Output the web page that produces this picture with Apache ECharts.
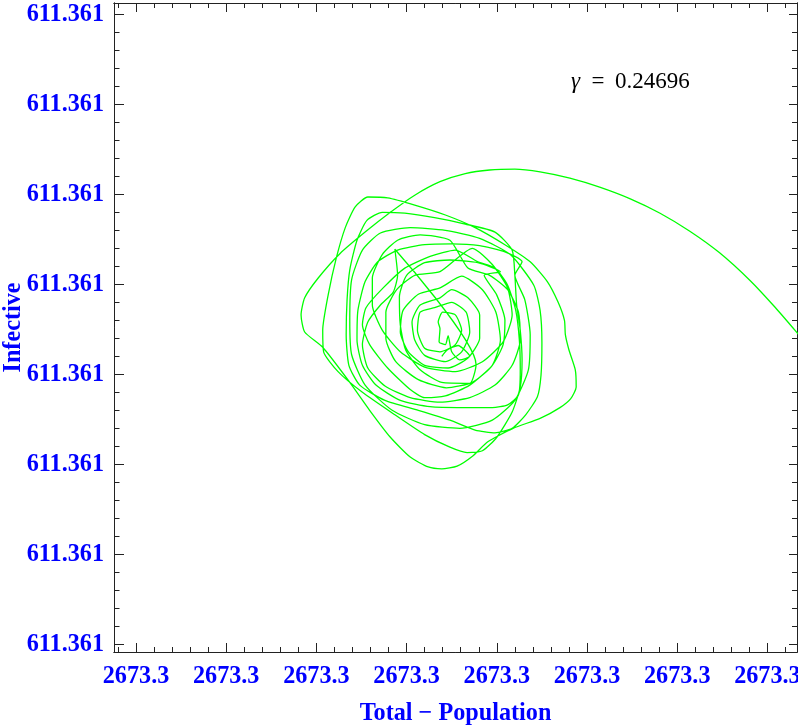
<!DOCTYPE html>
<html>
<head>
<meta charset="utf-8">
<script src="https://cdn.jsdelivr.net/npm/echarts@6/dist/echarts.min.js"></script>
<style>
html,body{margin:0;padding:0;background:#fff;}
#chart{width:798px;height:725px;}
</style>
</head>
<body>
<div id="chart"></div>
<script>
// Tick labels (all ticks print the same rounded value)
const xTickLabels = ['2673.3','2673.3','2673.3','2673.3','2673.3','2673.3','2673.3','2673.3'];
const yTickLabels = ['611.361','611.361','611.361','611.361','611.361','611.361','611.361','611.361'];
const xTickValues = [0,1,2,3,4,5,6,7];
const yTickValues = [0,1,2,3,4,5,6,7];
const xRange = [-0.244, 7.328];
const yRange = [-0.086, 7.126];

// Trajectory: Total - Population (offset, tick units) vs Infective (offset, tick units)
const totalPop = [
7.49,7.33,7.08,6.81,6.47,6.14,5.81,5.48,5.14,4.81,4.48,4.20,3.92,3.65,3.37,3.09,2.82,2.54,2.26,2.02,1.87,1.83,1.87,2.07,2.37,2.59,2.82,3.04,3.24,3.39,3.56,3.73,3.90,4.18,4.48,4.70,4.82,4.88,4.87,4.80,4.76,4.75,4.68,
4.56,4.37,4.09,3.76,3.43,3.09,2.79,2.57,2.43,2.32,2.22,2.13,2.07,2.08,2.24,2.51,2.87,3.20,3.48,3.67,3.84,4.00,4.17,4.26,4.28,4.26,4.22,
4.20,4.17,3.98,3.65,3.31,2.98,2.73,2.56,2.45,2.37,2.34,2.33,2.36,2.48,2.76,3.13,3.48,3.76,3.98,4.17,4.32,4.45,4.49,4.50,4.48,4.41,
4.15,3.81,3.43,3.04,2.71,2.51,2.39,2.37,2.39,2.54,2.84,3.20,3.59,3.95,4.20,4.35,4.37,4.31,4.20,
4.28,4.09,3.81,3.50,3.20,2.90,2.68,2.54,2.46,2.45,2.51,2.66,2.93,3.26,3.63,3.95,4.12,4.24,4.26,4.25,4.21,4.12,3.98,
3.79,3.54,3.26,2.98,2.74,2.55,2.51,2.59,2.79,3.04,3.20,3.43,3.70,3.95,4.07,4.09,4.00,3.86,
4.04,3.79,3.48,3.20,3.00,2.92,2.93,2.99,3.15,3.39,3.70,3.77,
2.87,2.90,2.85,2.71,2.57,2.51,2.57,2.76,3.04,3.37,3.70,3.98,4.17,4.26,4.24,4.12,3.92,3.68,
3.48,3.15,2.90,2.73,2.62,2.62,2.73,2.93,3.20,3.54,3.84,4.07,4.17,4.12,3.95,3.73,
3.37,3.09,2.89,2.77,2.77,2.88,3.13,3.44,3.73,3.95,4.04,3.99,3.84,3.61,
3.37,3.13,2.96,2.93,3.02,3.20,3.46,3.68,3.81,3.81,3.68,3.50,
3.37,3.15,3.06,3.09,3.20,3.43,3.61,3.70,3.66,3.50,
3.31,3.15,3.12,3.20,3.37,3.54,3.61,3.54,3.40,3.35,3.37,3.36,3.43,3.46,3.50,3.59,3.70,3.57,3.45,3.39
];
const infective = [
3.27,3.46,3.75,4.04,4.35,4.59,4.79,4.95,5.08,5.18,5.25,5.28,5.27,5.23,5.14,4.99,4.80,4.58,4.34,4.07,3.85,3.66,3.47,3.30,2.91,2.60,2.30,2.08,1.97,1.95,1.98,2.09,2.25,2.40,2.51,2.63,2.73,2.86,3.05,3.27,3.44,3.60,3.80,
4.03,4.25,4.44,4.63,4.77,4.88,4.96,4.97,4.86,4.63,4.29,3.88,3.49,3.25,3.03,2.80,2.55,2.33,2.19,2.13,2.15,2.30,2.58,2.86,3.16,3.49,3.77,
4.10,4.38,4.58,4.67,4.74,4.79,4.80,4.71,4.49,4.16,3.83,3.44,3.10,2.88,2.71,2.60,2.49,2.38,2.35,2.40,2.55,2.75,2.99,3.35,3.71,3.99,
4.33,4.51,4.60,4.63,4.57,4.38,4.05,3.60,3.22,2.88,2.60,2.44,2.40,2.49,2.71,3.05,3.44,3.83,4.10,
4.25,4.36,4.43,4.45,4.44,4.38,4.25,4.03,3.71,3.38,3.10,2.88,2.71,2.64,2.63,2.63,2.66,2.77,3.05,3.38,3.71,3.99,4.18,
4.25,4.38,4.31,4.18,3.96,3.74,3.55,3.33,3.07,2.83,2.74,2.76,2.88,3.10,3.33,3.60,3.88,4.10,
4.14,4.24,4.27,4.24,4.10,3.86,3.55,3.27,3.05,2.91,2.90,3.11,
4.39,4.10,3.91,3.77,3.58,3.33,3.07,2.87,2.74,2.69,2.74,2.88,3.10,3.38,3.69,3.94,4.10,4.18,
4.49,4.55,4.49,4.33,4.07,3.77,3.49,3.25,3.08,3.03,3.14,3.36,3.66,3.96,4.22,4.40,
4.14,4.10,3.94,3.69,3.40,3.14,2.94,2.85,2.91,3.10,3.38,3.69,3.94,4.09,
3.96,3.89,3.71,3.47,3.25,3.10,3.07,3.18,3.40,3.66,3.85,3.94,
3.85,3.77,3.58,3.38,3.21,3.14,3.25,3.47,3.69,3.80,
3.74,3.69,3.49,3.29,3.25,3.33,3.49,3.66,3.69,3.58,3.51,3.36,3.33,3.43,3.25,3.16,3.20,3.32,3.27,3.20
];

const blue = '#0000ff';
const axisColor = '#222';
const labelFont = {color: blue, fontFamily: 'Liberation Serif', fontWeight: 'bold', fontSize: 24.2};

function minorValues(lo, hi) {
  const out = [];
  for (let k = Math.ceil(lo / 0.2); k * 0.2 <= hi; k++) out.push(+(k * 0.2).toFixed(2));
  return out;
}
const xMinor = minorValues(xRange[0], xRange[1]);
const yMinor = minorValues(yRange[0], yRange[1]);

function axis(dim, pos, ticks, len, withLabels) {
  const labels = dim === 'x' ? xTickLabels : yTickLabels;
  const range = dim === 'x' ? xRange : yRange;
  return {
    type: 'value', position: pos, min: range[0], max: range[1],
    axisLine: {show: true, onZero: false, lineStyle: {color: axisColor, width: 1}},
    axisTick: {show: true, inside: true, length: len, customValues: ticks, lineStyle: {color: axisColor, width: 1}},
    axisLabel: {show: !!withLabels, customValues: ticks, hideOverlap: false,
      formatter: v => labels[Math.round(v)] || '', margin: dim === 'x' ? 13 : 10, ...labelFont},
    splitLine: {show: false}, minorTick: {show: false}
  };
}

const xAxes = [
  Object.assign(axis('x', 'bottom', xTickValues, 9, true), {
    name: 'Total − Population', nameLocation: 'middle', nameGap: 50, nameTextStyle: labelFont
  }),
  axis('x', 'bottom', xMinor, 5, false),
  axis('x', 'top', xTickValues, 9, false),
  axis('x', 'top', xMinor, 5, false)
];
const yAxes = [
  Object.assign(axis('y', 'left', yTickValues, 10, true), {
    name: 'Infective', nameLocation: 'middle', nameGap: 88, nameMoveOverlap: false, nameTextStyle: labelFont
  }),
  axis('y', 'left', yMinor, 5.5, false),
  axis('y', 'right', yTickValues, 8, false),
  axis('y', 'right', yMinor, 5, false)
];

const chart = echarts.init(document.getElementById('chart'), null, {renderer: 'canvas'});
chart.setOption({
  animation: false,
  backgroundColor: '#fff',
  grid: {left: 114, right: 1, top: 3, bottom: 73, containLabel: false, outerBoundsMode: 'none'},
  xAxis: xAxes,
  yAxis: yAxes,
  graphic: [{
    type: 'text', left: 571, top: 70,
    style: {
      text: '{g|γ}\u2002=\u0020\u20090.24696',
      rich: {g: {fontStyle: 'italic', fontFamily: 'Liberation Serif', fontSize: 23, fill: '#000'}},
      fontFamily: 'Liberation Serif', fontSize: 23, fill: '#000'
    }
  }],
  series: [{
    type: 'line', xAxisIndex: 0, yAxisIndex: 0,
    data: totalPop.map((x, i) => [x, infective[i]]),
    showSymbol: false, symbol: 'none', smooth: 0.2, clip: true,
    lineStyle: {color: '#00ff00', width: 1.3}
  }]
});
</script>
</body>
</html>
